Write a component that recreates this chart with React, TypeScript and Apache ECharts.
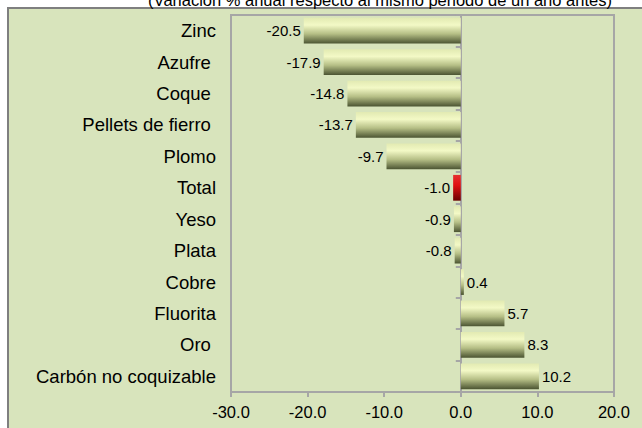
import React, { useEffect, useRef } from "react";
import * as echarts from "echarts";

const categories = [
  "Zinc",
  "Azufre ",
  "Coque ",
  "Pellets de fierro ",
  "Plomo",
  "Total",
  "Yeso",
  "Plata",
  "Cobre",
  "Fluorita",
  "Oro ",
  "Carbón no coquizable",
];
const values = [-20.5, -17.9, -14.8, -13.7, -9.7, -1.0, -0.9, -0.8, 0.4, 5.7, 8.3, 10.2];
const highlight = "Total";
const title = "(Variación % anual respecto al mismo periodo de un año antes)";
const xMin = -30;
const xMax = 20;
const xStep = 10;

const FONT = "'Liberation Sans', Arial, sans-serif";

export default function App() {
  const ref = useRef<HTMLDivElement>(null);
  useEffect(() => {
    if (!ref.current) return;
    const chart = echarts.init(ref.current, undefined, { renderer: "svg" });
    const green = new echarts.graphic.LinearGradient(0, 0, 0, 1, [
      { offset: 0, color: "#e2eab2" },
      { offset: 0.28, color: "#f3f9c6" },
      { offset: 0.62, color: "#b6bf86" },
      { offset: 1, color: "#4b5432" },
    ]);
    const red = new echarts.graphic.LinearGradient(0, 0, 0, 1, [
      { offset: 0, color: "#e53030" },
      { offset: 0.4, color: "#e01010" },
      { offset: 1, color: "#6a0000" },
    ]);
    chart.setOption({
      animation: false,
      graphic: [
        {
          type: "rect",
          z: -100,
          shape: { x: 8, y: 8, width: 700, height: 500 },
          style: { fill: "#d8e4bc", stroke: "#7f7f7f", lineWidth: 2 },
        },
        {
          type: "rect",
          z: -50,
          shape: { x: 231, y: 15, width: 383, height: 377 },
          style: { fill: "transparent", stroke: "#a6a6a6", lineWidth: 2 },
        },
        {
          type: "text",
          z: 100,
          x: 380,
          y: 8,
          style: {
            text: title,
            fill: "#000",
            font: `16.5px ${FONT}`,
            textAlign: "center",
            textVerticalAlign: "bottom",
          },
        },
      ],
      grid: {
        left: 231,
        top: 15,
        right: 28,
        bottom: 36,
        show: false,
      },
      xAxis: {
        type: "value",
        min: xMin,
        max: xMax,
        interval: xStep,
        splitLine: { show: false },
        axisLine: { show: true, lineStyle: { color: "#a6a6a6", width: 2 } },
        axisTick: { show: true, length: 5, lineStyle: { color: "#a6a6a6", width: 2 } },
        axisLabel: {
          color: "#000",
          fontFamily: FONT,
          fontSize: 16.5,
          margin: 11,
          formatter: (v: number) => v.toFixed(1),
        },
      },
      yAxis: [
        {
          type: "category",
          data: categories,
          inverse: true,
          axisLine: { show: false, onZero: false },
          axisTick: { show: false },
          axisLabel: {
            color: "#000",
            fontFamily: FONT,
            fontSize: 18.5,
            margin: 15,
          },
        },
        {
          type: "category",
          data: categories,
          inverse: true,
          position: "left",
          axisLine: { show: true, onZero: true, lineStyle: { color: "#a6a6a6", width: 2 } },
          axisTick: { show: true, length: 5, lineStyle: { color: "#a6a6a6", width: 2 } },
          axisLabel: { show: false },
        },
      ],
      series: [
        {
          type: "bar",
          yAxisIndex: 0,
          barCategoryGap: "18%",
          data: values.map((v, i) => ({
            value: v,
            itemStyle: { color: categories[i] === highlight ? red : green },
            label: {
              show: true,
              position: v < 0 ? "left" : "right",
              distance: 3,
              color: "#000",
              fontFamily: FONT,
              fontSize: 15,
              formatter: (p: any) => Number(p.value).toFixed(1),
            },
          })),
        },
      ],
    });
    return () => chart.dispose();
  }, []);
  return (
    <div
      ref={ref}
      style={{ position: "fixed", left: 0, top: 0, width: 642, height: 428, background: "#fff" }}
    />
  );
}
